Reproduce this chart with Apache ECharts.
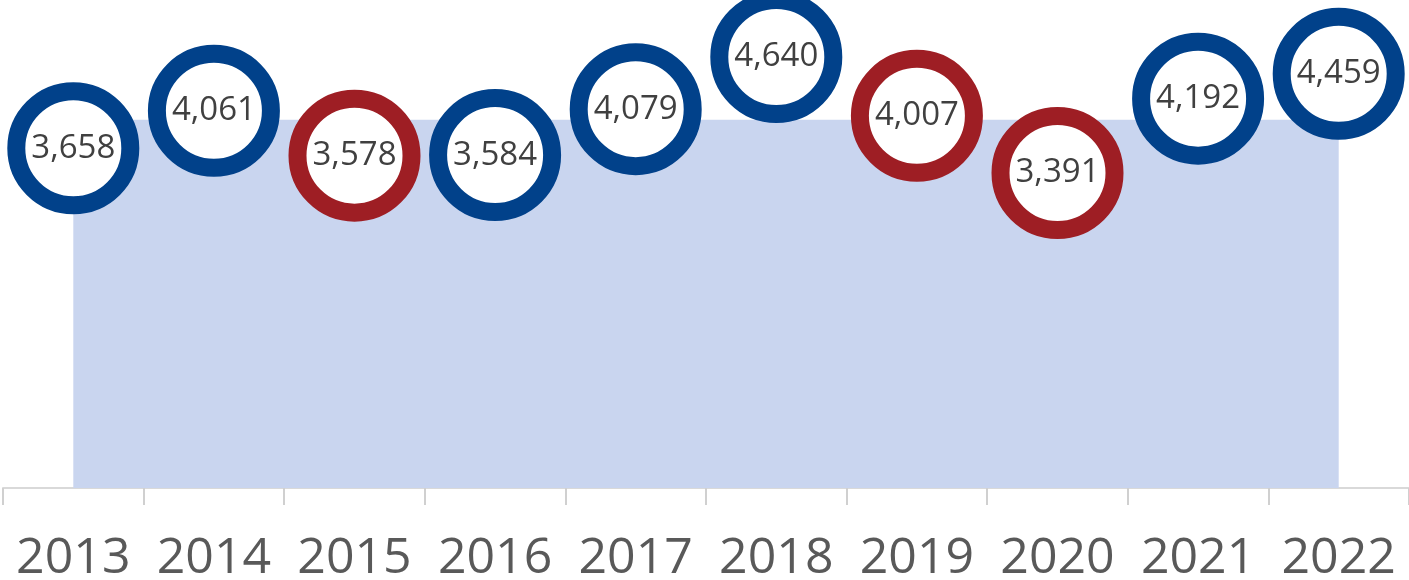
<!DOCTYPE html>
<html>
<head>
<meta charset="utf-8">
<script src="https://cdn.jsdelivr.net/npm/echarts@6/dist/echarts.min.js"></script>
<style>html,body{margin:0;padding:0;background:#fff}#c{width:1409px;height:580px}</style>
</head>
<body>
<div id="c"></div>
<script>
var years = ['2013','2014','2015','2016','2017','2018','2019','2020','2021','2022'];
var values = [3658, 4061, 3578, 3584, 4079, 4640, 4007, 3391, 4192, 4459];
var averageLine = [3965, 3965, 3965, 3965, 3965, 3965, 3965, 3965, 3965, 3965];

var BLUE = '#01418a', RED = '#9e1e24';
var points = values.map(function (v, i) {
  var down = i > 0 && v < values[i - 1];
  return { value: v, itemStyle: { borderColor: down ? RED : BLUE } };
});

var chart = echarts.init(document.getElementById('c'));
chart.setOption({
  animation: false,
  grid: { left: 3, right: 0, top: 0, bottom: 92, containLabel: false, outerBoundsMode: 'none' },
  xAxis: {
    type: 'category',
    data: years,
    boundaryGap: true,
    axisLine: { show: true, lineStyle: { color: '#d9d9d9', width: 2 } },
    axisTick: { show: true, interval: 0, length: 17, lineStyle: { color: '#d0d0d0', width: 2 } },
    axisLabel: { interval: 0, fontFamily: 'Open Sans', fontSize: 50, color: '#595959', margin: 46 }
  },
  yAxis: { type: 'value', min: 0, max: 5254, show: false, splitLine: { show: false } },
  series: [
    {
      type: 'line',
      data: averageLine,
      symbol: 'none',
      lineStyle: { width: 0 },
      areaStyle: { color: '#c9d5ef', opacity: 1 },
      z: 1,
      silent: true
    },
    {
      type: 'line',
      data: points,
      showAllSymbol: true,
      lineStyle: { width: 0, opacity: 0 },
      symbol: 'circle',
      symbolSize: 114,
      itemStyle: { color: '#ffffff', borderWidth: 18, opacity: 1 },
      label: {
        show: true,
        position: 'inside',
        fontFamily: 'Open Sans',
        fontSize: 33,
        color: '#404040',
        formatter: function (p) { return p.value.toLocaleString('en-US'); }
      },
      labelLayout: { hideOverlap: false },
      z: 5
    }
  ]
});
</script>
</body>
</html>
